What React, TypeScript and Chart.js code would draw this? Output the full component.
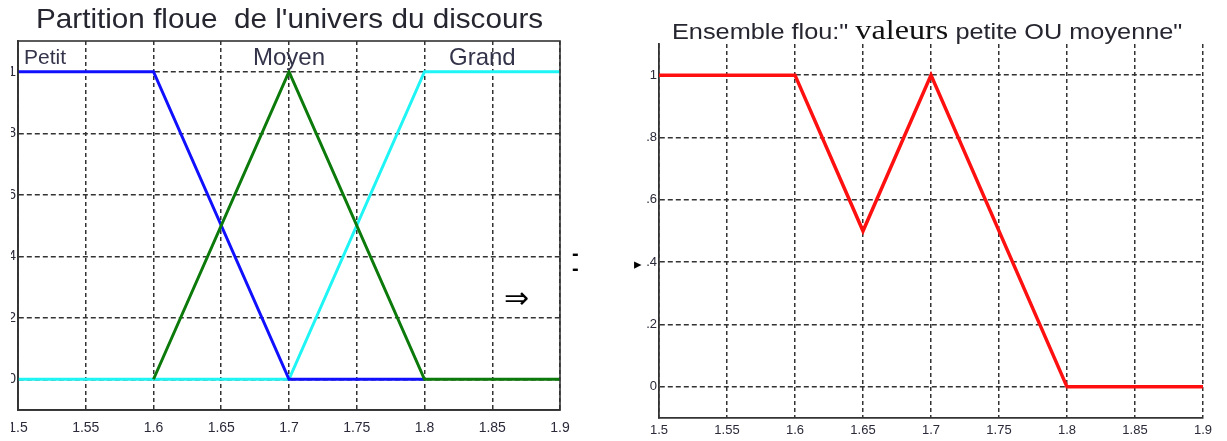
import React, { useEffect, useRef } from "react";
import { Chart, registerables } from "chart.js";

Chart.register(...registerables);

// ---- data ----
const xTicks = [1.5, 1.55, 1.6, 1.65, 1.7, 1.75, 1.8, 1.85, 1.9];
const xTickLabels = ["1.5", "1.55", "1.6", "1.65", "1.7", "1.75", "1.8", "1.85", "1.9"];
const yTicks = [0, 0.2, 0.4, 0.6, 0.8, 1];
const yTickLabels = ["0", ".2", ".4", ".6", ".8", "1"];

const petitX = [1.5, 1.6, 1.7, 1.8];
const petitY = [1, 1, 0, 0];
const moyenX = [1.6, 1.7, 1.8, 1.9];
const moyenY = [0, 1, 0, 0];
const grandX = [1.5, 1.7, 1.8, 1.9];
const grandY = [0, 0, 1, 1];

const unionX = [1.5, 1.6, 1.65, 1.7, 1.8, 1.9];
const unionY = [1, 1, 0.5, 1, 0, 0];

const leftTitle = "Partition floue  de l'univers du discours";
const setLabels = ["Petit", "Moyen", "Grand"];

const pts = (xs: number[], ys: number[]) => xs.map((x, i) => ({ x, y: ys[i] }));

const SANS = "'Liberation Sans', Arial, sans-serif";
const SERIF = "'Liberation Serif', 'Times New Roman', serif";

const boxPlugin = {
  id: "box",
  afterDatasetsDraw(chart: any) {
    const { ctx, chartArea } = chart;
    ctx.save();
    ctx.strokeStyle = "#333";
    ctx.lineWidth = 1.6;
    ctx.setLineDash([]);
    ctx.strokeRect(chartArea.left, chartArea.top, chartArea.right - chartArea.left, chartArea.bottom - chartArea.top);
    ctx.restore();
  },
};

function makeScales(yWidth: number, xHeight: number, xPad: number, fontSize: number) {
  return {
    x: {
      type: "linear" as const,
      min: 1.5,
      max: 1.9,
      afterBuildTicks: (s: any) => {
        s.ticks = xTicks.map((v) => ({ value: v }));
      },
      afterFit: (s: any) => {
        s.height = xHeight;
        s.paddingLeft = 0;
        s.paddingRight = 0;
      },
      ticks: {
        autoSkip: false,
        maxRotation: 0,
        padding: xPad,
        color: "#2a2a3a",
        font: { family: SANS, size: fontSize },
        callback: (_v: any, i: number) => xTickLabels[i],
      },
      grid: { color: "#333", lineWidth: 1.5, drawTicks: false },
      border: { display: true, color: "#333", width: 1.8, dash: [4, 3] },
    },
    y: {
      type: "linear" as const,
      min: -0.1,
      max: 1.1,
      afterBuildTicks: (s: any) => {
        s.ticks = yTicks.map((v) => ({ value: v }));
      },
      afterFit: (s: any) => {
        s.width = yWidth;
        s.paddingTop = 0;
        s.paddingBottom = 0;
      },
      ticks: {
        padding: 2,
        color: "#2a2a3a",
        font: { family: SANS, size: fontSize },
        callback: (_v: any, i: number) => yTickLabels[i],
      },
      grid: { color: "#333", lineWidth: 1.5, drawTicks: false },
      border: { display: true, color: "#333", width: 1.8, dash: [5, 3] },
    },
  };
}

const lineDs = (label: string, data: any[], color: string, w = 3) => ({
  label,
  data,
  borderColor: color,
  backgroundColor: color,
  borderWidth: w,
  pointRadius: 0,
  tension: 0,
  fill: false,
});

export default function App() {
  const leftRef = useRef<HTMLCanvasElement>(null);
  const rightRef = useRef<HTMLCanvasElement>(null);

  useEffect(() => {
    const common = {
      responsive: false,
      animation: false as const,
      plugins: { legend: { display: false }, tooltip: { enabled: false }, title: { display: false } },
    };
    const left = new Chart(leftRef.current!, {
      type: "line",
      data: {
        datasets: [
          lineDs("Moyen", pts(moyenX, moyenY), "#0b7a0b"),
          lineDs("Petit", pts(petitX, petitY), "#1010ff"),
          lineDs("Grand", pts(grandX, grandY), "#1ff5f5"),
        ],
      },
      options: {
        ...common,
        layout: { padding: { top: 41, right: 51, bottom: 0, left: 0 } },
        scales: makeScales(7, 31, 10, 14),
      },
      plugins: [boxPlugin],
    });
    const right = new Chart(rightRef.current!, {
      type: "line",
      data: {
        datasets: [lineDs("petite OU moyenne", pts(unionX, unionY), "#ff1010", 3.5)],
      },
      options: {
        ...common,
        layout: { padding: { top: 44, right: 24, bottom: 0, left: 0 } },
        scales: makeScales(39, 23, 5, 13),
      },
    });
    return () => {
      left.destroy();
      right.destroy();
    };
  }, []);

  const abs = (s: React.CSSProperties): React.CSSProperties => ({ position: "absolute", whiteSpace: "pre", lineHeight: 1, ...s });

  return (
    <div style={{ position: "fixed", left: 0, top: 0, width: 1227, height: 441, background: "#fff", overflow: "hidden" }}>
      <canvas ref={leftRef} width={600} height={441} style={{ position: "absolute", left: 11, top: 0, width: 600, height: 441 }} />
      <canvas ref={rightRef} width={607} height={441} style={{ position: "absolute", left: 620, top: 0, width: 607, height: 441 }} />

      <div style={abs({ left: 36, top: 5, fontFamily: SANS, fontSize: 28, color: "#262630", transform: "scaleX(1.06)", transformOrigin: "0 0" })}>{leftTitle}</div>
      <div style={abs({ left: 672, top: 16, fontFamily: SANS, fontSize: 22, color: "#262630", transform: "scaleX(1.15)", transformOrigin: "0 0" })}>
        {"Ensemble flou:\" "}
        <span style={{ fontFamily: SERIF, fontSize: 28, color: "#111" }}>valeurs</span>
        {" petite OU moyenne\""}
      </div>

      <div style={abs({ left: 24, top: 46, fontFamily: SANS, fontSize: 21, color: "#33334a" })}>{setLabels[0]}</div>
      <div style={abs({ left: 253, top: 45, fontFamily: SANS, fontSize: 24, color: "#33334a" })}>{setLabels[1]}</div>
      <div style={abs({ left: 449, top: 45, fontFamily: SANS, fontSize: 24, color: "#33334a" })}>{setLabels[2]}</div>

      <div style={abs({ left: 504, top: 283, fontFamily: SERIF, fontSize: 30, color: "#000" })}>{"⇒"}</div>
      <div style={abs({ left: 572, top: 246, fontFamily: SANS, fontSize: 20, fontWeight: "bold", lineHeight: "15px", color: "#000" })}>{"-\n-"}</div>
      <div style={abs({ left: 634, top: 257, fontFamily: "'DejaVu Sans', sans-serif", fontSize: 15, color: "#000" })}>{"▸"}</div>
    </div>
  );
}
